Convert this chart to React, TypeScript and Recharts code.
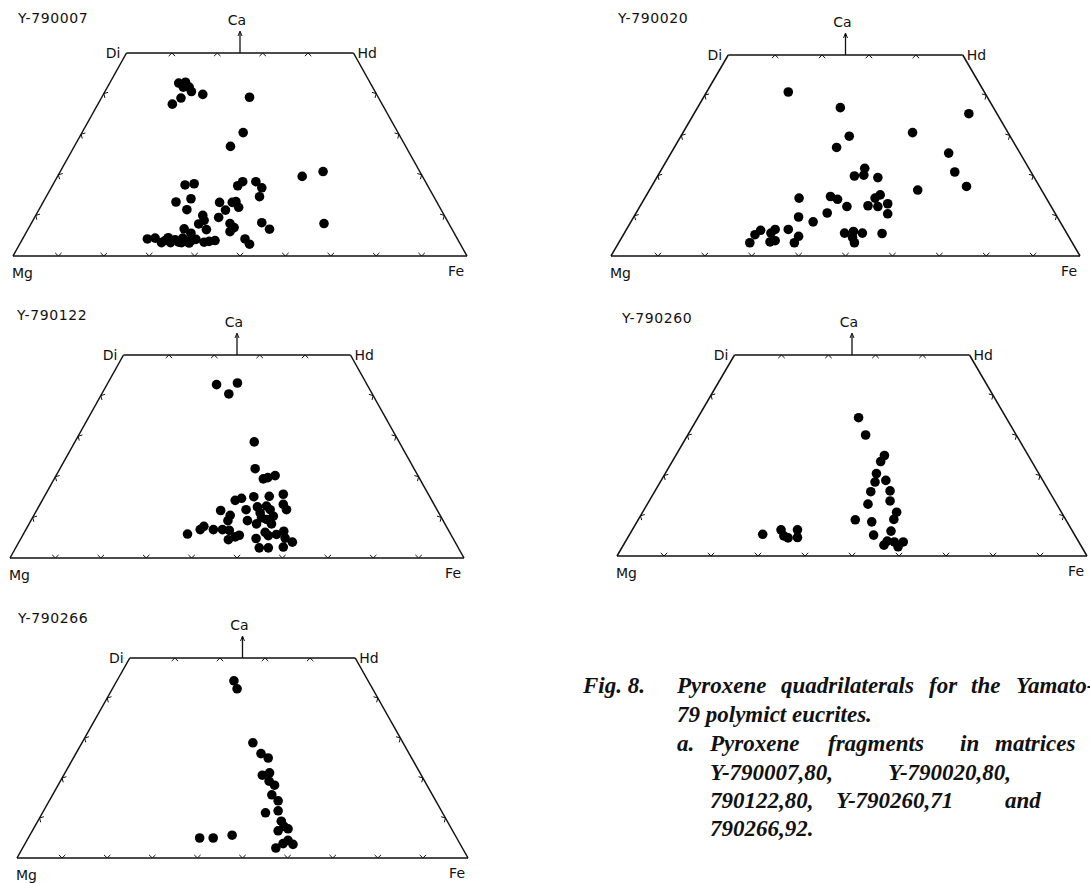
import React from 'react';
import { ScatterChart, Scatter, XAxis, YAxis, ReferenceLine, ReferenceDot } from 'recharts';

type Pt = [number, number];

// Sample names
const panelNames = ['Y-790007', 'Y-790020', 'Y-790122', 'Y-790260', 'Y-790266'];

// Points: [x along Mg–Fe (0–100), Ca (0–50)] in quadrilateral plot coordinates
const y790007: Pt[] = [
  [36.5, 42.6], [38.0, 42.8], [37.5, 41.6], [38.8, 41.6], [39.3, 40.5], [37.0, 38.9], [35.1, 37.4], [41.8, 39.8], [52.1, 39.1],
  [50.7, 30.4], [47.9, 27.0],
  [63.7, 19.6], [68.3, 20.8], [68.5, 8.0],
  [37.9, 17.5], [39.9, 17.8], [39.2, 14.1], [35.9, 13.3], [38.3, 11.4], [45.5, 13.2], [46.8, 11.3], [45.3, 9.5], [41.8, 10.0], [42.1, 8.8], [40.9, 7.9], [42.6, 6.5], [37.7, 6.7], [39.2, 5.6],
  [49.5, 17.3], [50.6, 18.3], [53.5, 18.3], [54.8, 16.8], [54.3, 14.6], [48.3, 13.2], [49.1, 13.4], [49.7, 12.0], [47.8, 8.0], [48.7, 7.0], [47.8, 6.0], [54.8, 8.2], [56.5, 6.6], [51.1, 4.2], [52.1, 2.9],
  [29.6, 4.2], [31.3, 4.4], [32.7, 3.3], [34.2, 4.5], [34.7, 3.3], [35.7, 4.0], [36.5, 3.4], [37.1, 3.3], [37.4, 4.4], [38.2, 3.6], [39.3, 3.8], [40.3, 4.1], [42.1, 3.4], [43.2, 3.6], [44.5, 3.8], [33.5, 3.8], [38.8, 3.2],
];

const y790020: Pt[] = [
  [37.8, 40.8], [48.9, 36.9], [50.8, 29.8], [48.1, 27.0], [64.3, 30.7], [76.3, 35.4], [72.0, 25.6], [73.3, 20.9], [75.8, 17.3], [65.4, 16.4],
  [54.1, 21.8], [51.9, 19.9], [53.9, 20.1], [56.9, 19.5], [46.8, 14.8], [48.3, 14.1], [40.1, 14.4], [50.3, 12.3], [46.1, 10.7], [40.0, 9.7], [43.1, 8.5],
  [56.3, 14.4], [57.4, 15.2], [54.8, 12.5], [56.9, 12.3], [59.0, 13.0], [59.0, 10.5], [57.8, 5.6],
  [49.8, 5.7], [51.7, 6.1], [53.6, 5.7], [51.5, 4.6], [51.9, 3.3],
  [37.8, 6.6], [40.0, 4.9], [39.1, 3.3], [35.0, 6.6], [34.1, 5.7], [33.9, 3.5], [35.0, 3.8], [31.9, 6.4], [30.7, 5.3], [29.6, 3.3],
];

const y790122: Pt[] = [
  [45.5, 42.7], [50.1, 43.1], [48.2, 40.4], [53.8, 28.6], [54.0, 22.0], [55.8, 19.5], [56.8, 19.8], [58.4, 20.3],
  [60.2, 15.7], [57.1, 15.2], [53.7, 15.1], [51.0, 14.7], [49.6, 14.2], [52.0, 11.9], [46.4, 11.7], [54.5, 12.6], [55.1, 11.1],
  [56.5, 12.8], [57.3, 11.9], [60.2, 13.2], [60.9, 11.9], [58.0, 10.3], [56.5, 9.5], [55.4, 9.9], [48.5, 10.5], [48.0, 9.2], [52.3, 9.2],
  [46.8, 7.0], [48.3, 6.8], [44.8, 7.0], [42.7, 7.8], [41.9, 7.0], [39.1, 5.9], [50.5, 5.6], [49.6, 5.2], [48.1, 4.5], [54.2, 4.8],
  [56.2, 6.3], [56.9, 5.5], [58.7, 5.8], [60.3, 6.6], [60.6, 4.9], [62.2, 3.9], [60.2, 2.7], [54.9, 2.5], [56.9, 2.5], [57.6, 8.4], [54.3, 8.4],
];

const y790260: Pt[] = [
  [51.4, 34.4], [52.9, 30.1], [56.9, 25.0], [56.1, 23.5], [55.2, 20.5], [54.9, 18.4], [57.2, 18.8], [54.0, 16.0], [58.1, 16.2], [58.1, 13.7],
  [53.4, 12.9], [59.5, 10.9], [58.9, 9.1], [50.7, 9.0], [54.2, 8.5], [58.3, 6.2], [54.6, 5.2], [57.5, 3.7], [56.8, 2.7], [59.0, 3.5], [60.9, 3.5], [59.8, 2.3],
  [31.0, 5.4], [34.9, 6.5], [35.5, 5.0], [36.4, 4.5], [38.4, 6.5], [38.4, 4.6],
];

const y790266: Pt[] = [
  [48.1, 44.3], [48.8, 42.3], [52.3, 28.8], [54.1, 26.1], [55.7, 25.0], [56.0, 21.3], [54.4, 20.7], [55.9, 19.2], [57.1, 18.2], [56.5, 15.8],
  [57.9, 14.3], [57.9, 11.8], [55.1, 11.3], [58.6, 9.2], [57.9, 6.8], [60.1, 7.3], [59.2, 7.9], [60.1, 4.4], [59.0, 3.6], [61.2, 3.4], [57.4, 2.5],
  [40.5, 5.0], [43.5, 5.0], [47.7, 5.7],
];

const panelData: Pt[][] = [y790007, y790020, y790122, y790260, y790266];

// Quadrilateral tick positions
const bottomTicks = [10, 20, 30, 40, 50, 60, 70, 80, 90];
const sideTicks = [10, 20, 30, 40];
const topTicks = [35, 45, 55, 65];

const cornerLabels = { mg: 'Mg', fe: 'Fe', di: 'Di', hd: 'Hd', ca: 'Ca' };

// Caption text (as visible in the reference, which is cut at the right edge)
const captionHead = 'Fig. 8.';
const captionWords: string[][] = [
  ['Pyroxene', 'quadrilaterals', 'for', 'the', 'Yamato-'],
  ['79 polymict eucrites.'],
  ['a.', 'Pyroxene', 'fragments', 'in', 'matrices'],
  ['Y-790007,80,', 'Y-790020,80,'],
  ['790122,80,', 'Y-790260,71', 'and'],
  ['790266,92.'],
];

// ---------- layout (pixels) ----------
const frames = [
  { mgX: 13, feX: 467, topY: 53, baseY: 256, tdx: 5, tdy: 30 },
  { mgX: 611, feX: 1080, topY: 55, baseY: 256, tdx: 7, tdy: 32 },
  { mgX: 10, feX: 464, topY: 355, baseY: 558, tdx: 7, tdy: 35 },
  { mgX: 617, feX: 1087, topY: 355, baseY: 556, tdx: 5, tdy: 32 },
  { mgX: 17, feX: 468, topY: 658, baseY: 858, tdx: 1, tdy: 35 },
];
const captionX = [[677, 781, 929, 971, 1016], [677], [677, 710, 828, 960, 995], [710, 888], [710, 836, 1005], [710]];
const captionY = [693, 722, 751, 780, 808, 836];

const ML = 10, MR = 3, MT = 50, MB = 30;
const INK = '#111';
const LABEL_FONT = "'DejaVu Sans', sans-serif";

type TickPt = { x: number; y: number; side: string };
const tickPoints: TickPt[] = [
  ...bottomTicks.map((x) => ({ x, y: 0, side: 'b' })),
  ...topTicks.map((x) => ({ x, y: 50, side: 't' })),
  ...sideTicks.map((c) => ({ x: c / 2, y: c, side: 'l' })),
  ...sideTicks.map((c) => ({ x: 100 - c / 2, y: c, side: 'r' })),
];

const TickMark = (props: any) => {
  const { cx, cy, payload } = props;
  const side = payload.side;
  const n: [number, number] =
    side === 'b' ? [0, -1] : side === 't' ? [0, 1] : side === 'l' ? [0.873, 0.488] : [-0.873, 0.488];
  const L = 4.5;
  const a = 0.8;
  const rot = (v: [number, number], ang: number) => [v[0] * Math.cos(ang) - v[1] * Math.sin(ang), v[0] * Math.sin(ang) + v[1] * Math.cos(ang)];
  const p1 = rot(n, a);
  const p2 = rot(n, -a);
  return (
    <path
      d={`M${cx + p1[0] * L},${cy + p1[1] * L}L${cx},${cy}L${cx + p2[0] * L},${cy + p2[1] * L}`}
      stroke={INK}
      strokeWidth={1}
      fill="none"
    />
  );
};

const DotMark = (props: any) => <circle cx={props.cx} cy={props.cy} r={4.8} fill="#000" />;

const txt = (x: number, y: number, s: string, anchor: 'start' | 'middle' | 'end' = 'start', spacing = 0) => (
  <text x={x} y={y} textAnchor={anchor} fontFamily={LABEL_FONT} fontSize={14} fill={INK} letterSpacing={spacing}>
    {s}
  </text>
);

function Panel({ idx }: { idx: number }) {
  const f = frames[idx];
  const w = f.feX - f.mgX + ML + MR;
  const h = f.baseY - f.topY + MT + MB;
  const pts = panelData[idx].map(([x, y]) => ({ x, y }));
  const seg = (a: [number, number], b: [number, number], k: string) => (
    <ReferenceLine key={k} segment={[{ x: a[0], y: a[1] }, { x: b[0], y: b[1] }]} stroke={INK} strokeWidth={1.5} />
  );
  return (
    <div style={{ position: 'absolute', left: f.mgX - ML, top: f.topY - MT, width: w, height: h }}>
      <ScatterChart width={w} height={h} margin={{ left: ML, right: MR, top: MT, bottom: MB }}>
        <XAxis type="number" dataKey="x" domain={[0, 100]} hide allowDataOverflow />
        <YAxis type="number" dataKey="y" domain={[0, 50]} hide allowDataOverflow />
        {seg([0, 0], [100, 0], 'b')}
        {seg([0, 0], [25, 50], 'l')}
        {seg([25, 50], [75, 50], 't')}
        {seg([75, 50], [100, 0], 'r')}
        <Scatter data={tickPoints} shape={TickMark} isAnimationActive={false} legendType="none" />
        <Scatter data={pts} shape={DotMark} isAnimationActive={false} legendType="none" />
        <ReferenceDot
          x={50}
          y={50}
          r={0}
          shape={(p: any) => (
            <g>
              <line x1={p.cx} y1={p.cy} x2={p.cx} y2={p.cy - 21} stroke={INK} strokeWidth={1.3} />
              <path d={`M${p.cx - 2},${p.cy - 17}L${p.cx},${p.cy - 22}L${p.cx + 2},${p.cy - 17}`} stroke={INK} strokeWidth={1} fill="none" />
              {txt(p.cx - 3, p.cy - 28, cornerLabels.ca, 'middle')}
            </g>
          )}
        />
        <ReferenceDot x={25} y={50} r={0} shape={(p: any) => txt(p.cx - 6, p.cy + 5, cornerLabels.di, 'end')} />
        <ReferenceDot x={75} y={50} r={0} shape={(p: any) => txt(p.cx + 4, p.cy + 5, cornerLabels.hd, 'start')} />
        <ReferenceDot x={0} y={0} r={0} shape={(p: any) => txt(p.cx - 1, p.cy + 22, cornerLabels.mg, 'start')} />
        <ReferenceDot x={100} y={0} r={0} shape={(p: any) => txt(p.cx - 3, p.cy + 20, cornerLabels.fe, 'end')} />
        <ReferenceDot x={0} y={50} r={0} shape={(p: any) => txt(p.cx + f.tdx, p.cy - f.tdy, panelNames[idx], 'start', 0.6)} />
      </ScatterChart>
    </div>
  );
}

export default function App() {
  return (
    <div style={{ position: 'absolute', left: 0, top: 0, width: 1090, height: 883, overflow: 'hidden', background: '#fff' }}>
      {frames.map((_, i) => (
        <Panel key={i} idx={i} />
      ))}
      <svg width={1090} height={883} style={{ position: 'absolute', left: 0, top: 0, pointerEvents: 'none' }}>
        <g fontFamily="'Liberation Serif', serif" fontStyle="italic" fontWeight="bold" fontSize={23} fill="#111">
          <text x={583} y={captionY[0]}>{captionHead}</text>
          {captionWords.map((line, li) =>
            line.map((wd, wi) => (
              <text key={`${li}-${wi}`} x={captionX[li][wi]} y={captionY[li]} xmlSpace="preserve">
                {wd}
              </text>
            ))
          )}
        </g>
      </svg>
    </div>
  );
}
